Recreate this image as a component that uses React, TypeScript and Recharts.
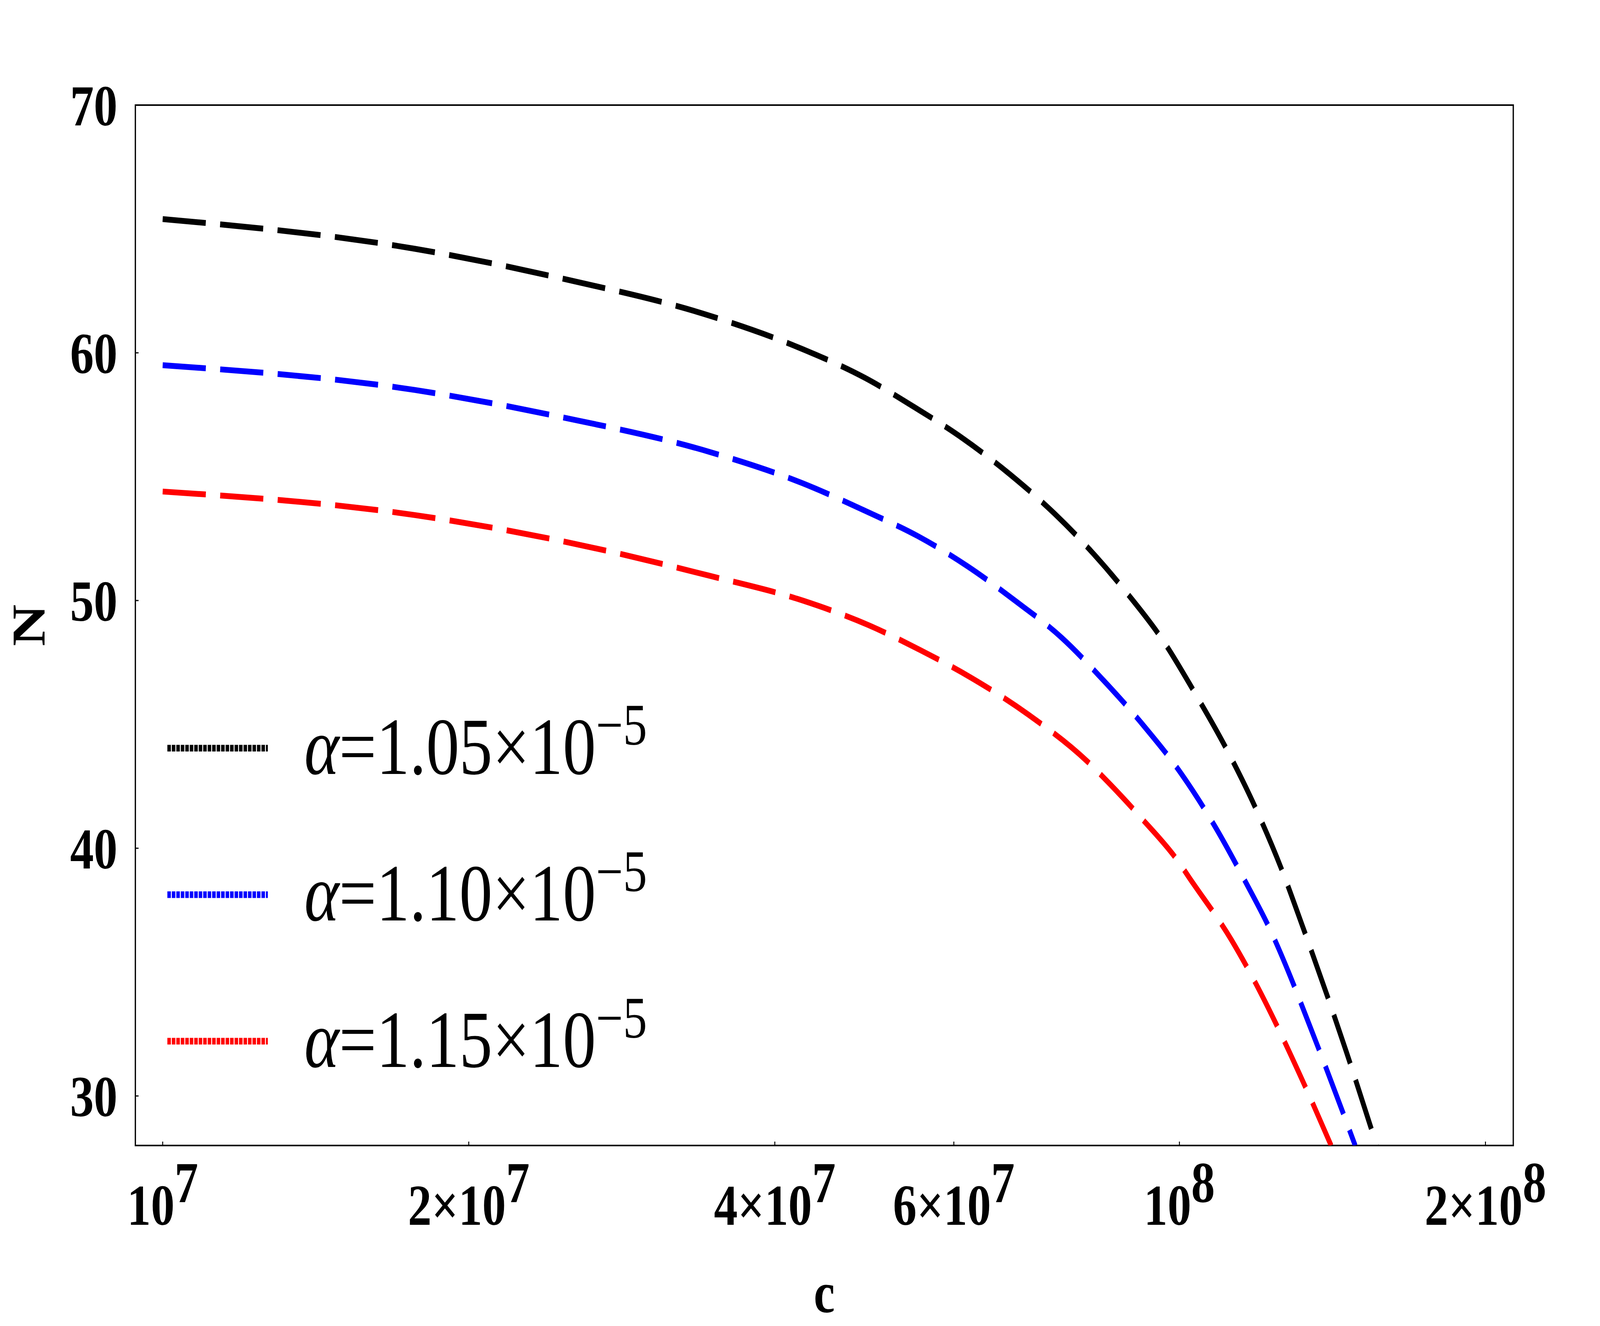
import React from 'react';
import { LineChart, Line, XAxis, YAxis, Legend, ReferenceArea } from 'recharts';

// c values and N values, one pair of arrays per curve
const cBlack = [1.0e7, 1.77e7, 2.47e7, 3.45e7, 4.23e7, 4.9e7, 5.49e7, 6.12e7, 6.81e7, 7.54e7, 8.08e7, 8.84e7, 9.63e7, 1.038e8, 1.116e8, 1.189e8, 1.259e8, 1.323e8, 1.459e8, 1.563e8];
const nBlack = [65.4, 64.2, 63.0, 61.5, 60.2, 59.0, 57.8, 56.55, 55.1, 53.5, 52.25, 50.4, 48.4, 46.2, 43.9, 41.6, 39.2, 36.8, 31.8, 28.0];

const cBlue = [1.0e7, 1.77e7, 2.47e7, 3.45e7, 4.25e7, 4.92e7, 5.53e7, 6.18e7, 6.89e7, 7.66e7, 8.41e7, 9.2e7, 1.0045e8, 1.085e8, 1.163e8, 1.222e8, 1.368e8, 1.489e8];
const nBlue = [59.5, 58.5, 57.4, 56.0, 54.75, 53.6, 52.6, 51.4, 50.0, 48.5, 46.8, 45.0, 43.0, 40.85, 38.6, 36.9, 32.0, 28.0];

const cRed = [1.0e7, 1.77e7, 2.47e7, 3.45e7, 4.26e7, 4.95e7, 5.56e7, 6.23e7, 7.1e7, 8.12e7, 8.54e7, 9.16e7, 1.0e8, 1.023e8, 1.125e8, 1.169e8, 1.329e8, 1.41e8];
const nRed = [54.4, 53.45, 52.4, 51.0, 50.0, 49.0, 48.0, 46.9, 45.4, 43.5, 42.6, 41.25, 39.4, 38.8, 36.3, 35.1, 30.4, 28.0];

const alphaLabels = ['1.05', '1.10', '1.15'];
const seriesColors = ['#000000', '#0000ff', '#ff0000'];

const xTicks = [1e7, 2e7, 4e7, 6e7, 1e8, 2e8];
const xTickMantissas = ['', '2', '4', '6', '', '2'];
const xTickExponents = ['7', '7', '7', '7', '8', '8'];
const yTicks = [30, 40, 50, 60, 70];

const xDomain = [9.4e6, 2.13e8];
const yDomain = [28, 70];

const W = 5000;
const H = 3394;
const FONT = "'Liberation Serif', 'Times New Roman', Times, serif";

const zip = (cs: number[], ns: number[]) => cs.map((c, i) => ({ c, n: ns[i] }));

const series = [
  { alpha: alphaLabels[0], color: seriesColors[0], data: zip(cBlack, nBlack) },
  { alpha: alphaLabels[1], color: seriesColors[1], data: zip(cBlue, nBlue) },
  { alpha: alphaLabels[2], color: seriesColors[2], data: zip(cRed, nRed) },
];

const XTick = (props: any) => {
  const { x, y, payload } = props;
  const i = xTicks.indexOf(payload.value);
  const m = xTickMantissas[i];
  return (
    <text x={x} y={y} textAnchor="middle" fontFamily={FONT} fontWeight="bold" fontSize={148} fill="#000">
      {(m ? m + '×' : '') + '10'}
      <tspan dy={-58}>{xTickExponents[i]}</tspan>
    </text>
  );
};

const YTick = (props: any) => {
  const { x, y, payload } = props;
  return (
    <text x={x} y={y} dy="0.35em" textAnchor="end" fontFamily={FONT} fontWeight="bold" fontSize={148} fill="#000">
      {payload.value}
    </text>
  );
};

// legend box sits at (500, 1680) in figure pixels
const renderLegend = () => (
  <svg width={1800} height={1150} style={{ display: 'block' }}>
    {series.map((s, i) => (
      <g key={s.alpha}>
        <line x1={23} x2={337} y1={235 + i * 375} y2={235 + i * 375} stroke={s.color} strokeWidth={17} strokeDasharray="11 3" />
        <text x={451} y={301 + i * 375} fontFamily={FONT} fontSize={207} fill="#000">
          <tspan fontStyle="italic">α</tspan>
          <tspan>{'=' + s.alpha + '×10'}</tspan>
          <tspan fontSize={150} dy={-75}>−5</tspan>
        </text>
      </g>
    ))}
  </svg>
);

export default function App() {
  // the figure is laid out at the reference size and scaled to whatever viewport we get
  const vw = typeof window !== 'undefined' && window.innerWidth ? window.innerWidth : W;
  const vh = typeof window !== 'undefined' && window.innerHeight ? window.innerHeight : H;
  const sx = vw / W;
  const sy = vh / H;

  return (
    <div style={{ position: 'fixed', left: 0, top: 0, width: vw, height: vh, overflow: 'hidden', background: '#fff' }}>
      <div style={{ width: W, height: H, transform: `scale(${sx}, ${sy})`, transformOrigin: '0 0' }}>
        <LineChart width={W} height={H} margin={{ top: 269, right: 271, bottom: 0, left: 0 }}>
          <XAxis
            dataKey="c"
            type="number"
            scale="log"
            domain={xDomain}
            allowDataOverflow
            ticks={xTicks}
            interval={0}
            height={462}
            axisLine={false}
            tickSize={-10}
            tickMargin={213}
            tickLine={{ stroke: '#000', strokeWidth: 3 }}
            tick={<XTick />}
            label={{
              content: (p: any) => (
                <text x={p.viewBox.x + p.viewBox.width / 2} y={p.viewBox.y + 427} textAnchor="middle" fontFamily={FONT} fontWeight="bold" fontSize={148} fill="#000">c</text>
              ),
            }}
          />
          <YAxis
            type="number"
            domain={yDomain}
            allowDataOverflow
            ticks={yTicks}
            interval={0}
            width={423}
            axisLine={false}
            tickSize={-10}
            tickMargin={66}
            tickLine={{ stroke: '#000', strokeWidth: 3 }}
            tick={<YTick />}
            label={{
              content: (p: any) => {
                const cx = p.viewBox.x + 139;
                const cy = p.viewBox.y + p.viewBox.height / 2;
                return (
                  <text x={cx} y={cy} transform={`rotate(-90, ${cx}, ${cy})`} textAnchor="middle" fontFamily={FONT} fontWeight="bold" fontSize={148} fill="#000">N</text>
                );
              },
            }}
          />
          {series.map((s) => (
            <Line
              key={s.alpha}
              data={s.data}
              dataKey="n"
              type="monotone"
              stroke={s.color}
              strokeWidth={15}
              strokeDasharray="135 45"
              dot={false}
              activeDot={false}
              isAnimationActive={false}
            />
          ))}
          <ReferenceArea x1={xDomain[0]} x2={xDomain[1]} y1={yDomain[0]} y2={yDomain[1]} fill="none" stroke="#000" strokeWidth={4} />
          <Legend
            content={renderLegend}
            layout="horizontal"
            verticalAlign="middle"
            align="center"
            wrapperStyle={{ position: 'absolute', left: 500, top: 1680, width: 1800, height: 1150 }}
          />
        </LineChart>
      </div>
    </div>
  );
}
